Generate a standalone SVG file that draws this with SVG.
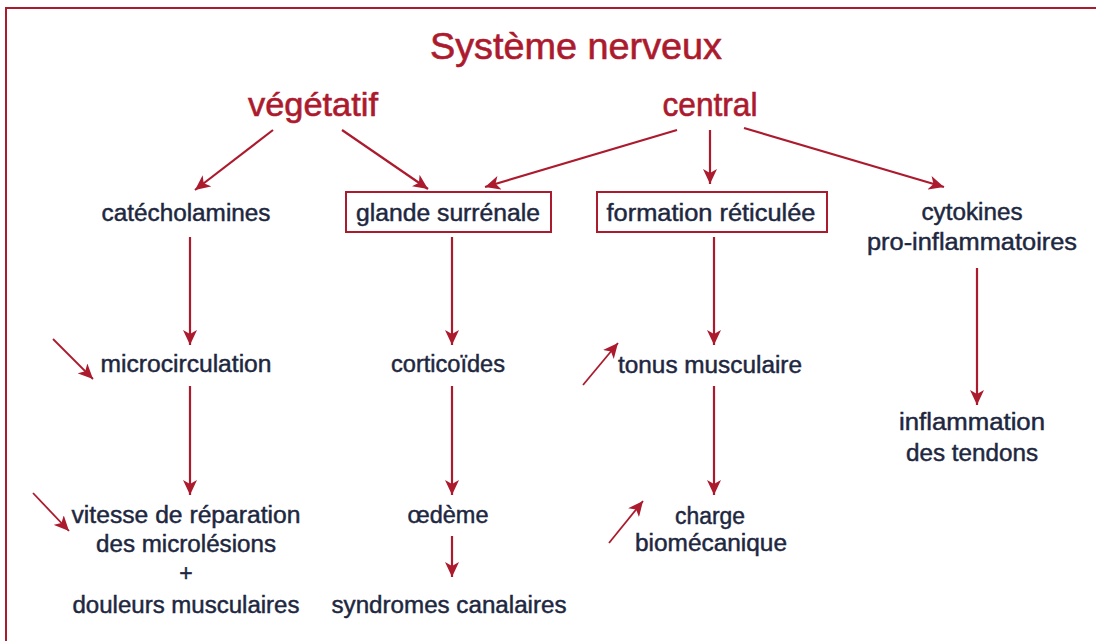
<svg xmlns="http://www.w3.org/2000/svg" width="1096" height="641" viewBox="0 0 1096 641">
<style>
.t{font-family:"Liberation Sans",Arial,sans-serif;font-size:23px;fill:#1e2740;stroke:#1e2740;stroke-width:0.45;text-anchor:middle;}
.h{font-family:"Liberation Sans",Arial,sans-serif;fill:#ac1a2e;stroke:#ac1a2e;stroke-width:0.6;text-anchor:middle;}
.box{fill:none;stroke:#ac1a2e;stroke-width:2;}
.c{stroke:#ac1a2e;stroke-width:2.2;fill:none;marker-end:url(#ah);}
.s{stroke:#ac1a2e;stroke-width:1.8;fill:none;marker-end:url(#ah);}
</style>
<defs>
<marker id="ah" markerUnits="userSpaceOnUse" markerWidth="16" markerHeight="14" refX="15" refY="7" orient="auto">
<path d="M0,0 L15,7 L0,14 L4,7 z" fill="#ac1a2e"/>
</marker>
</defs>
<rect width="1096" height="641" fill="#ffffff"/>
<rect x="6" y="8" width="1200" height="700" fill="none" stroke="#ac1a2e" stroke-width="2"/>
<g id="title"><text class="h" x="576" y="59" font-size="37" textLength="292" lengthAdjust="spacingAndGlyphs">Système nerveux</text></g>
<g id="vegetatif"><text class="h" x="313" y="116" font-size="33" textLength="130" lengthAdjust="spacingAndGlyphs">végétatif</text></g>
<g id="central"><text class="h" x="710" y="116" font-size="33" textLength="95" lengthAdjust="spacingAndGlyphs">central</text></g>
<g id="catecholamines"><text class="t" x="186" y="221" textLength="169" lengthAdjust="spacingAndGlyphs">catécholamines</text></g>
<g id="glande"><rect class="box" x="346" y="192" width="205" height="40"/><text class="t" x="448" y="221" textLength="184" lengthAdjust="spacingAndGlyphs">glande surrénale</text></g>
<g id="formation"><rect class="box" x="597" y="192" width="230" height="40"/><text class="t" x="711" y="221" textLength="209" lengthAdjust="spacingAndGlyphs">formation réticulée</text></g>
<g id="cytokines"><text class="t" x="972" y="220" textLength="101" lengthAdjust="spacingAndGlyphs">cytokines</text><text class="t" x="972" y="250" textLength="210" lengthAdjust="spacingAndGlyphs">pro-inflammatoires</text></g>
<g id="microcirculation"><text class="t" x="186" y="372" textLength="171" lengthAdjust="spacingAndGlyphs">microcirculation</text></g>
<g id="corticoides"><text class="t" x="448" y="372" textLength="114" lengthAdjust="spacingAndGlyphs">corticoïdes</text></g>
<g id="tonus"><text class="t" x="710" y="373" textLength="184" lengthAdjust="spacingAndGlyphs">tonus musculaire</text></g>
<g id="inflammation"><text class="t" x="972" y="430" textLength="146" lengthAdjust="spacingAndGlyphs">inflammation</text><text class="t" x="972" y="461" textLength="132" lengthAdjust="spacingAndGlyphs">des tendons</text></g>
<g id="vitesse"><text class="t" x="186" y="523" textLength="229" lengthAdjust="spacingAndGlyphs">vitesse de réparation</text><text class="t" x="186" y="552" textLength="180" lengthAdjust="spacingAndGlyphs">des microlésions</text><text class="t" x="186" y="581" font-size="15">+</text><text class="t" x="186" y="613" textLength="227" lengthAdjust="spacingAndGlyphs">douleurs musculaires</text></g>
<g id="oedeme"><text class="t" x="448" y="523" textLength="81" lengthAdjust="spacingAndGlyphs">œdème</text></g>
<g id="syndromes"><text class="t" x="449" y="613" textLength="235" lengthAdjust="spacingAndGlyphs">syndromes canalaires</text></g>
<g id="charge"><text class="t" x="710" y="524" textLength="70" lengthAdjust="spacingAndGlyphs">charge</text><text class="t" x="711" y="551" textLength="152" lengthAdjust="spacingAndGlyphs">biomécanique</text></g>
<g id="connectors">
<line class="c" x1="273" y1="130" x2="195" y2="190"/>
<line class="c" x1="342" y1="130" x2="428" y2="189"/>
<line class="c" x1="677" y1="130" x2="485" y2="187"/>
<line class="c" x1="710" y1="130" x2="710" y2="184"/>
<line class="c" x1="744" y1="128" x2="944" y2="187"/>
<line class="c" x1="190" y1="237" x2="190" y2="345"/>
<line class="c" x1="452" y1="237" x2="452" y2="345"/>
<line class="c" x1="714" y1="237" x2="714" y2="345"/>
<line class="c" x1="977" y1="268" x2="977" y2="405"/>
<line class="c" x1="190" y1="386" x2="190" y2="495"/>
<line class="c" x1="452" y1="386" x2="452" y2="495"/>
<line class="c" x1="714" y1="386" x2="714" y2="495"/>
<line class="c" x1="452" y1="536" x2="452" y2="577"/>
<line class="s" x1="53" y1="339" x2="93" y2="379"/>
<line class="s" x1="33" y1="493" x2="69" y2="531"/>
<line class="s" x1="583" y1="385" x2="618" y2="343"/>
<line class="s" x1="609" y1="543" x2="643" y2="501"/>
</g>
</svg>
